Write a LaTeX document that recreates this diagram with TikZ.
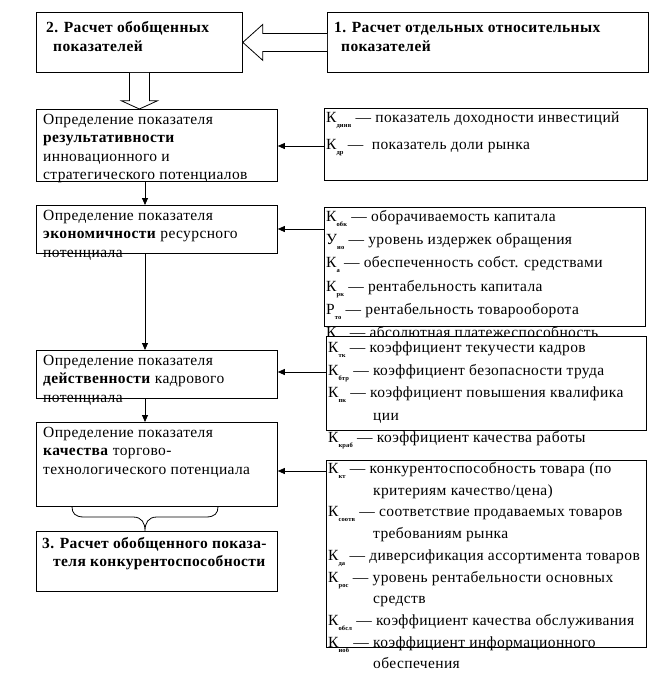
\documentclass[tikz,border=0pt]{standalone}
\usepackage{fontspec}
\setmainfont{Liberation Serif}[LetterSpace=2.5]
\usetikzlibrary{arrows.meta,calc}
\newcommand\ksub[1]{\raisebox{-5pt}{\fontsize{6.5}{6.5}\selectfont\bfseries #1}}
\begin{document}
\begin{tikzpicture}[x=1pt,y=-1pt,
  box/.style={draw, line width=0.8pt, fill=white, inner sep=0pt, anchor=north west},
  txt/.style={inner sep=0pt, anchor=base west, align=left, font={\fontsize{15.5}{#1}\selectfont}},
  arr/.style={-{Triangle[length=7pt,width=6pt]}, line width=0.8pt},
  hollow/.style={draw, line width=0.8pt, fill=white}]
\useasboundingbox (0,0) rectangle (653,673);
% top boxes
\node[box, minimum width=206pt, minimum height=60pt] (b2) at (36,12) {};
\node[box, minimum width=321pt, minimum height=60pt] (b1) at (327,12) {};
\node[txt=19, font={\fontsize{15.5}{19}\selectfont\bfseries}] (t2) at (46,51) {2. Расчет обобщенных\\\hspace*{7pt}показателей};
\node[txt=19, font={\fontsize{15.5}{19}\selectfont\bfseries}] (t1) at (334,51) {1. Расчет отдельных относительных\\\hspace*{7pt}показателей};
% left column
\node[box, minimum width=241pt, minimum height=72pt] (A) at (36,109) {};
\node[box, minimum width=241pt, minimum height=48pt] (B) at (36,205) {};
\node[box, minimum width=241pt, minimum height=48pt] (C) at (36,350) {};
\node[box, minimum width=241pt, minimum height=84pt] (D) at (36,422) {};
\node[box, minimum width=241pt, minimum height=60pt] (b3) at (36,531) {};
\node[txt=18.5] (tA) at (43,179.5) {Определение показателя\\\textbf{результативности}\\инновационного и\\стратегического потенциалов};
\node[txt=18.5] (tB) at (43,257) {Определение показателя\\\textbf{экономичности} ресурсного\\потенциала};
\node[txt=18.5] (tC) at (43,402) {Определение показателя\\\textbf{действенности} кадрового\\потенциала};
\node[txt=18.5] (tD) at (43,474) {Определение показателя\\\textbf{качества} торгово-\\технологического потенциала};
\node[txt=18.5, font={\fontsize{15.5}{18.5}\selectfont\bfseries}] (t3) at (42,566.5) {3. Расчет обобщенного показа-\\\hspace*{11pt}теля конкурентоспособности};
% right column
\node[box, minimum width=323pt, minimum height=72pt] (R1) at (324,108) {};
\node[txt=27] (r1) at (326,149.5) {К\ksub{динв} — показатель доходности инвестиций\\К\ksub{др} —\ \ показатель доли рынка};
\node[box, minimum width=321pt, minimum height=119pt] (R2) at (324,207) {};
\node[txt=23.2] (r2) at (326,337.5) {К\ksub{обк} — оборачиваемость капитала\\У\ksub{ио} — уровень издержек обращения\\К\ksub{а} — обеспеченность собст. средствами\\К\ksub{рк} — рентабельность капитала\\Р\ksub{то} — рентабельность товарооборота\\К\hspace*{9pt} — абсолютная платежеспособность};
\node[box, minimum width=320pt, minimum height=94pt] (R3) at (326,336) {};
\node[txt=22.5] (r3) at (328,442.5) {К\ksub{тк} — коэффициент текучести кадров\\К\ksub{бтр} — коэффициент безопасности труда\\К\ksub{пк} — коэффициент повышения квалифика\\\hspace*{45pt}ции\\К\ksub{краб} — коэффициент качества работы};
\node[box, minimum width=320pt, minimum height=187pt] (R4) at (326,460) {};
\node[txt=21.7] (r4) at (328,668.8) {К\ksub{кт} — конкурентоспособность товара (по\\\hspace*{45pt}критериям качество/цена)\\К\ksub{соотв} — соответствие продаваемых товаров\\\hspace*{45pt}требованиям рынка\\К\ksub{да} — диверсификация ассортимента товаров\\К\ksub{рос} — уровень рентабельности основных\\\hspace*{45pt}средств\\К\ksub{обсл} — коэффициент качества обслуживания\\К\ksub{иоб} — коэффициент информационного\\\hspace*{45pt}обеспечения};
% hollow arrows
\draw[hollow] ($(b1.west)+(0,-9)$) -- ($(b2.east)+(20,-9)$) -- ($(b2.east)+(20,-18)$) -- (b2.east) -- ($(b2.east)+(20,18)$) -- ($(b2.east)+(20,9)$) -- ($(b1.west)+(0,9)$);
\draw[hollow] ($(b2.south)+(-10,0)$) -- ($(b2.south)+(-10,28)$) -- ($(b2.south)+(-18,28)$) -- (A.north -| b2.south) -- ($(b2.south)+(18,28)$) -- ($(b2.south)+(10,28)$) -- ($(b2.south)+(10,0)$);
% connectors
\coordinate (vx) at (145,0);
\coordinate (yA) at (0,146);
\coordinate (yB) at (0,229);
\coordinate (yC) at (0,372);
\coordinate (yD) at (0,471);
\draw[arr] (A.south -| vx) -- (B.north -| vx);
\draw[arr] (B.south -| vx) -- (C.north -| vx);
\draw[arr] (C.south -| vx) -- (D.north -| vx);
\draw[arr] (R1.west |- yA) -- (A.east |- yA);
\draw[arr] (R2.west |- yB) -- (B.east |- yB);
\draw[arr] (R3.west |- yC) -- (C.east |- yC);
\draw[arr] (R4.west |- yD) -- (D.east |- yD);
% brace
\draw[line width=0.8pt] (D.south -| 72,0) .. controls (72,513) and (75,517) .. (84,517) -- (133,517) .. controls (142,517) and (145,523) .. (b3.north -| vx) .. controls (145,523) and (148,517) .. (157,517) -- (206,517) .. controls (215,517) and (218,513) .. (D.south -| 218,0);
\end{tikzpicture}
\end{document}
